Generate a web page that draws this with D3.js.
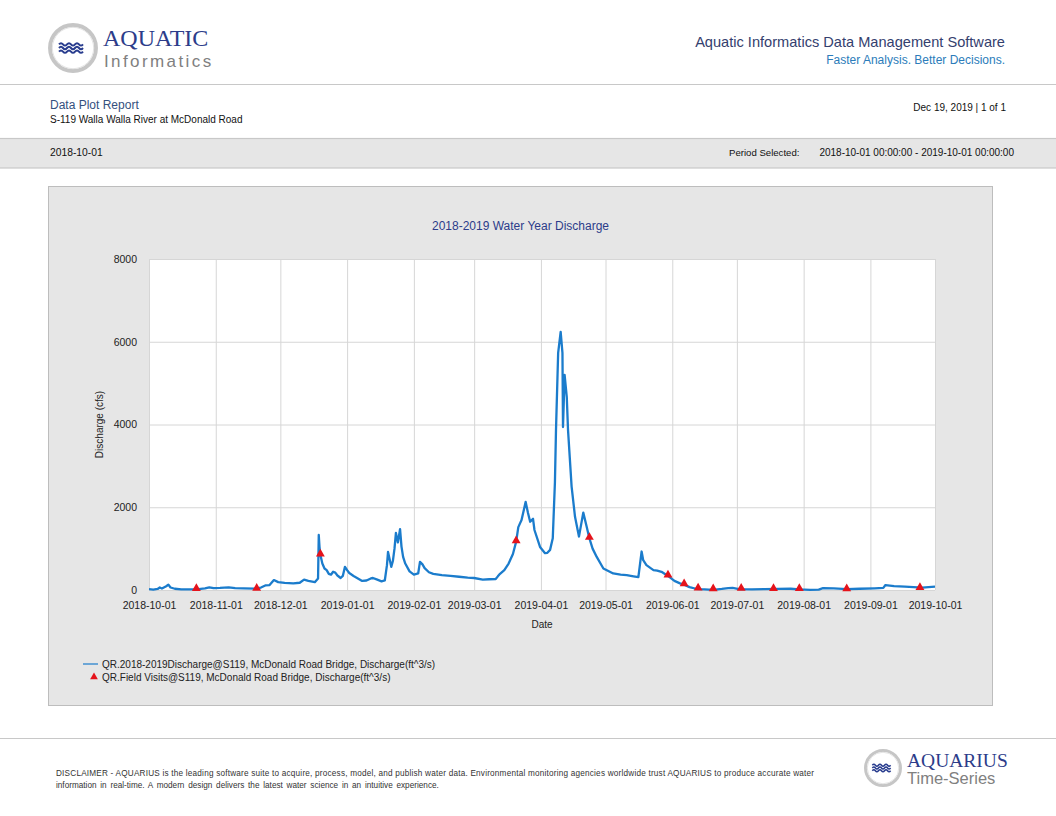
<!DOCTYPE html>
<html>
<head>
<meta charset="utf-8">
<script src="https://cdn.jsdelivr.net/npm/d3@7"></script>
<style>
body { margin: 0; background: #fff; }
svg { display: block; font-family: "Liberation Sans", Arial, sans-serif; }
</style>
</head>
<body>
<div id="page"></div>
<script>
// discharge record (cfs)
var flowDates = [
    "2018-10-01", "2018-10-03", "2018-10-05", "2018-10-06", "2018-10-07", "2018-10-09", "2018-10-10",
    "2018-10-11", "2018-10-13", "2018-10-16", "2018-10-20", "2018-10-24", "2018-10-27", "2018-10-29",
    "2018-10-31", "2018-11-03", "2018-11-07", "2018-11-10", "2018-11-14", "2018-11-19", "2018-11-22",
    "2018-11-24", "2018-11-26", "2018-11-28", "2018-11-30", "2018-12-03", "2018-12-07", "2018-12-10",
    "2018-12-12", "2018-12-14", "2018-12-17", "2018-12-18 12:00", "2018-12-18 20:00", "2018-12-19 04:00",
    "2018-12-19 14:00", "2018-12-20 12:00", "2018-12-21 12:00", "2018-12-22 12:00", "2018-12-23 12:00",
    "2018-12-24 12:00", "2018-12-25 12:00", "2018-12-26 12:00", "2018-12-27 12:00", "2018-12-29",
    "2018-12-30", "2018-12-31", "2019-01-01", "2019-01-02", "2019-01-04", "2019-01-06", "2019-01-08",
    "2019-01-10", "2019-01-12", "2019-01-13", "2019-01-15", "2019-01-17", "2019-01-18 12:00",
    "2019-01-19 12:00", "2019-01-20", "2019-01-21", "2019-01-21 12:00", "2019-01-22 06:00",
    "2019-01-23", "2019-01-23 16:00", "2019-01-24 14:00", "2019-01-25 14:00", "2019-01-26 06:00",
    "2019-01-27", "2019-01-28", "2019-01-30", "2019-02-01", "2019-02-03", "2019-02-03 20:00",
    "2019-02-05", "2019-02-06", "2019-02-08", "2019-02-10", "2019-02-14", "2019-02-18", "2019-02-22",
    "2019-02-26", "2019-03-01", "2019-03-05", "2019-03-08", "2019-03-11", "2019-03-12", "2019-03-13",
    "2019-03-15", "2019-03-17", "2019-03-19", "2019-03-20 12:00", "2019-03-21 12:00", "2019-03-23",
    "2019-03-24 22:00", "2019-03-26", "2019-03-27", "2019-03-28 08:00", "2019-03-29", "2019-03-31 14:00",
    "2019-04-02 22:00", "2019-04-04", "2019-04-05 06:00", "2019-04-06 12:00", "2019-04-07 12:00",
    "2019-04-08", "2019-04-09", "2019-04-10 04:00", "2019-04-11", "2019-04-11 06:00", "2019-04-12",
    "2019-04-13", "2019-04-13 14:00", "2019-04-15 06:00", "2019-04-16 20:00", "2019-04-18 16:00",
    "2019-04-20 16:00", "2019-04-22 06:00", "2019-04-23 12:00", "2019-04-25", "2019-04-26 22:00",
    "2019-04-30", "2019-05-04 14:00", "2019-05-08", "2019-05-10 20:00", "2019-05-14", "2019-05-16 06:00",
    "2019-05-17 18:00", "2019-05-18 12:00", "2019-05-20", "2019-05-23 06:00", "2019-05-25", "2019-05-27",
    "2019-05-30", "2019-06-02", "2019-06-04 14:00", "2019-06-06 12:00", "2019-06-09", "2019-06-12",
    "2019-06-14", "2019-06-18", "2019-06-21", "2019-06-24", "2019-06-27", "2019-06-29", "2019-07-02",
    "2019-07-08", "2019-07-14", "2019-07-20", "2019-07-26", "2019-07-30", "2019-08-04", "2019-08-08",
    "2019-08-10", "2019-08-15", "2019-08-21", "2019-08-27", "2019-09-03", "2019-09-07", "2019-09-08",
    "2019-09-12", "2019-09-17", "2019-09-21", "2019-09-25", "2019-09-28", "2019-10-01"
];
var flowValues = [
    20, 10, 25, 60, 35, 90, 130,
    60, 30, 15, 15, 20, 40, 65,
    45, 50, 65, 45, 40, 35, 60,
    110, 120, 240, 190, 170, 160, 175,
    250, 220, 190, 280, 1330, 1050,
    850, 640, 520, 480, 390,
    370, 440, 420, 350, 290,
    340, 560, 480, 410, 340, 280, 220,
    230, 280, 290, 250, 210, 230,
    600, 920, 680, 560, 700,
    1000, 1380, 1150, 1470, 1050,
    800, 640, 450, 370, 400, 680,
    620, 530, 430, 390, 360, 340, 320,
    300, 290, 250, 260, 265, 330, 390,
    480, 640, 870, 1170, 1520, 1690,
    2130, 1860, 1650, 1720, 1450, 1040,
    890, 900, 970, 1250, 2600,
    3870, 5730, 6240, 5730, 3940, 5200,
    4670, 3870, 2500, 1770, 1290,
    1870, 1530, 1250, 1000, 800,
    520, 400, 370, 360, 330, 310,
    930, 720, 600, 480, 470, 440,
    340, 220, 160, 130, 70, 30,
    20, 10, 10, 25, 45, 50, 20,
    15, 20, 25, 30, 15, 5, 10,
    45, 40, 20, 30, 40, 50, 120,
    95, 80, 70, 55, 70, 80
];

// field visit measurements
var visitDates = [
    "2018-10-23", "2018-11-20", "2018-12-19 14:00", "2019-03-20 12:00", "2019-04-23 12:00",
    "2019-05-30", "2019-06-06 12:00", "2019-06-13", "2019-06-20", "2019-07-03", "2019-07-18",
    "2019-07-30", "2019-08-21", "2019-09-24"
];
var visitValues = [15, 20, 850, 1170, 1250, 340, 130, 25, 10, 20, 15, 15, 10, 40];

var yTicks = [0, 2000, 4000, 6000, 8000];
var monthTicks = [
    "2018-10-01", "2018-11-01", "2018-12-01", "2019-01-01", "2019-02-01", "2019-03-01", "2019-04-01",
    "2019-05-01", "2019-06-01", "2019-07-01", "2019-08-01", "2019-09-01", "2019-10-01"
];

var legendNames = [
    "QR.2018-2019Discharge@S119, McDonald Road Bridge, Discharge(ft^3/s)",
    "QR.Field Visits@S119, McDonald Road Bridge, Discharge(ft^3/s)"
];

var parseDay = d3.utcParse("%Y-%m-%d");
var parseHour = d3.utcParse("%Y-%m-%d %H:%M");
var parseDate = function (s) { return parseHour(s) || parseDay(s); };

var flow = flowDates.map(function (d, i) { return { date: parseDate(d), value: flowValues[i] }; });
var visits = visitDates.map(function (d, i) { return { date: parseDate(d), value: visitValues[i] }; });

var navy = "#2c3c8a";
var blue = "#1b7ccc";
var red = "#e5131b";

var svg = d3.select("#page").append("svg")
    .attr("width", 1056)
    .attr("height", 816);

svg.append("rect").attr("width", 1056).attr("height", 816).attr("fill", "#fff");

// ---- header ----
var drawLogo = function (cx, cy, r) {
    var logo = svg.append("g").attr("transform", "translate(" + cx + "," + cy + ")");
    logo.append("circle").attr("r", r).attr("fill", "#fff")
        .attr("stroke", "#c6c6c6").attr("stroke-width", r * 0.17);
    logo.append("circle").attr("r", r * 0.9).attr("fill", "none")
        .attr("stroke", "#e4e4e4").attr("stroke-width", 1);
    var k = r / 23;
    [-3.6, 0, 3.6].forEach(function (dy) {
        var y0 = dy * k, w = 4 * k, x0 = -14 * k;
        var p = "M" + x0 + "," + y0;
        for (var j = 0; j < 4; j++) {
            p += " q" + (w / 2) + "," + (-2.4 * k) + " " + w + ",0";
            p += " q" + (w / 2) + "," + (2.4 * k) + " " + w + ",0";
            if (j == 2) break;
        }
        logo.append("path").attr("d", p).attr("fill", "none")
            .attr("stroke", "#283c8e").attr("stroke-width", 2 * k);
    });
};

drawLogo(73, 48, 23);
svg.append("text").attr("x", 103).attr("y", 45.5)
    .style("font-family", "'Liberation Serif', 'DejaVu Serif', serif")
    .style("font-size", "24px").attr("fill", navy).text("AQUATIC");
svg.append("text").attr("x", 104).attr("y", 66.5)
    .style("font-size", "17px").style("letter-spacing", "2.4px")
    .attr("fill", "#808080").text("Informatics");

svg.append("text").attr("x", 1005).attr("y", 46.5).attr("text-anchor", "end")
    .style("font-size", "14.6px").attr("fill", "#34406e")
    .text("Aquatic Informatics Data Management Software");
svg.append("text").attr("x", 1005).attr("y", 64).attr("text-anchor", "end")
    .style("font-size", "12px").attr("fill", "#2b7cba")
    .text("Faster Analysis. Better Decisions.");

svg.append("line").attr("x1", 0).attr("x2", 1056).attr("y1", 84.5).attr("y2", 84.5)
    .attr("stroke", "#c8c8c8").attr("stroke-width", 1.2);

svg.append("text").attr("x", 50).attr("y", 108.5)
    .style("font-size", "12px").attr("fill", "#34507e").text("Data Plot Report");
svg.append("text").attr("x", 50).attr("y", 122.5)
    .style("font-size", "10px").attr("fill", "#111").text("S-119 Walla Walla River at McDonald Road");
svg.append("text").attr("x", 1006).attr("y", 111).attr("text-anchor", "end")
    .style("font-size", "10px").attr("fill", "#111").text("Dec 19, 2019 | 1 of 1");

svg.append("rect").attr("x", -1).attr("y", 138.5).attr("width", 1058).attr("height", 29.5)
    .attr("fill", "#e6e6e6").attr("stroke", "#c8c8c8").attr("stroke-width", 1.2);
svg.append("text").attr("x", 50).attr("y", 156)
    .style("font-size", "10.3px").attr("fill", "#111").text("2018-10-01");
svg.append("text").attr("x", 729).attr("y", 156)
    .style("font-size", "9.6px").attr("fill", "#111").text("Period Selected:");
svg.append("text").attr("x", 1014).attr("y", 156).attr("text-anchor", "end")
    .style("font-size", "10px").attr("fill", "#111")
    .text("2018-10-01 00:00:00 - 2019-10-01 00:00:00");

// ---- chart panel ----
svg.append("rect").attr("x", 48.5).attr("y", 186.5).attr("width", 944).attr("height", 519)
    .attr("fill", "#e6e6e6").attr("stroke", "#bdbdbd");

svg.append("text").attr("x", 520.5).attr("y", 230).attr("text-anchor", "middle")
    .style("font-size", "12px").attr("fill", navy).text("2018-2019 Water Year Discharge");

var margin = { top: 259, left: 149 };
var width = 935 - 149;
var height = 590 - 259;
var g = svg.append("g").attr("transform", "translate(" + margin.left + "," + margin.top + ")");

var x = d3.scaleUtc()
    .domain([parseDay(monthTicks[0]), parseDay(monthTicks[monthTicks.length - 1])])
    .range([0, width]);
var y = d3.scaleLinear()
    .domain([0, 8000])
    .range([height, 0]);

g.append("rect").attr("width", width).attr("height", height).attr("fill", "#fff");

// gridlines
g.append("g")
    .attr("class", "grid")
    .call(d3.axisBottom(x).tickValues(monthTicks.map(parseDay)).tickSize(height).tickFormat(""))
    .call(function (s) { s.select(".domain").remove(); })
    .selectAll("line").attr("stroke", "#d6d6d6");
g.append("g")
    .attr("class", "grid")
    .call(d3.axisLeft(y).tickValues(yTicks).tickSize(-width).tickFormat(""))
    .call(function (s) { s.select(".domain").remove(); })
    .selectAll("line").attr("stroke", "#d6d6d6");

var xAxis = g.append("g")
    .attr("transform", "translate(0," + height + ")")
    .call(d3.axisBottom(x).tickValues(monthTicks.map(parseDay)).tickSize(0).tickPadding(12)
        .tickFormat(d3.utcFormat("%Y-%m-%d")));
xAxis.select(".domain").remove();
xAxis.selectAll("text").style("font-size", "10.5px").attr("fill", "#222")
    .style("font-family", "'Liberation Sans', Arial, sans-serif");

var yAxis = g.append("g")
    .call(d3.axisLeft(y).tickValues(yTicks).tickSize(0).tickPadding(12).tickFormat(d3.format("d")));
yAxis.select(".domain").remove();
yAxis.selectAll("text").style("font-size", "10.5px").attr("fill", "#222")
    .style("font-family", "'Liberation Sans', Arial, sans-serif");

g.append("text").attr("x", width / 2).attr("y", height + 38).attr("text-anchor", "middle")
    .style("font-size", "10px").attr("fill", "#222").text("Date");
g.append("text").attr("transform", "rotate(-90)")
    .attr("x", -height / 2).attr("y", -46).attr("text-anchor", "middle")
    .style("font-size", "10px").attr("fill", "#222").text("Discharge (cfs)");

// discharge line
g.append("path").datum(flow)
    .attr("fill", "none")
    .attr("stroke", blue)
    .attr("stroke-width", 2.3)
    .attr("stroke-linejoin", "round")
    .attr("d", d3.line()
        .x(function (d) { return x(d.date); })
        .y(function (d) { return y(d.value); }));

// field visits
g.selectAll(".visit").data(visits).enter().append("path")
    .attr("class", "visit")
    .attr("transform", function (d) { return "translate(" + x(d.date) + "," + (y(d.value) - 1) + ")"; })
    .attr("d", d3.symbol().type(d3.symbolTriangle).size(34))
    .attr("fill", red);

// legend
var legend = svg.append("g").attr("transform", "translate(83,664)");
legend.append("line").attr("x1", 0).attr("x2", 15).attr("y1", 0).attr("y2", 0)
    .attr("stroke", blue).attr("stroke-width", 1.2);
legend.append("path").attr("transform", "translate(11,13)")
    .attr("d", d3.symbol().type(d3.symbolTriangle).size(26)).attr("fill", red);
legend.selectAll(".lt").data(legendNames).enter().append("text")
    .attr("class", "lt")
    .attr("x", 19).attr("y", function (d, i) { return 3.5 + i * 13.5; })
    .style("font-size", "10px").attr("fill", "#222")
    .text(function (d) { return d; });

// ---- footer ----
svg.append("line").attr("x1", 0).attr("x2", 1056).attr("y1", 738.5).attr("y2", 738.5)
    .attr("stroke", "#c8c8c8").attr("stroke-width", 1.2);

svg.append("text").attr("x", 56).attr("y", 776)
    .attr("textLength", 758).attr("lengthAdjust", "spacing")
    .style("font-size", "8.2px").attr("fill", "#333")
    .text("DISCLAIMER - AQUARIUS is the leading software suite to acquire, process, model, and publish water data. Environmental monitoring agencies worldwide trust AQUARIUS to produce accurate water");
svg.append("text").attr("x", 56).attr("y", 788)
    .style("font-size", "8.2px").style("word-spacing", "1.5px").attr("fill", "#333")
    .text("information in real-time. A modern design delivers the latest water science in an intuitive experience.");

drawLogo(883, 768, 17.5);
svg.append("text").attr("x", 907).attr("y", 767)
    .style("font-family", "'Liberation Serif', 'DejaVu Serif', serif")
    .style("font-size", "19.5px").attr("fill", navy).text("AQUARIUS");
svg.append("text").attr("x", 907).attr("y", 784)
    .style("font-size", "16.5px").attr("fill", "#808080").text("Time-Series");
</script>
</body>
</html>
